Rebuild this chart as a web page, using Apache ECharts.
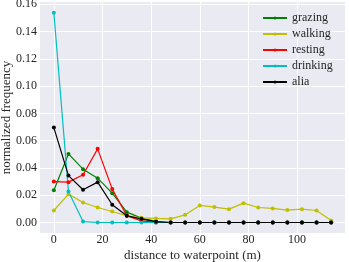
<!DOCTYPE html>
<html><head><meta charset="utf-8">
<script src="https://cdn.jsdelivr.net/npm/echarts@6/dist/echarts.min.js"></script>
<style>html,body{margin:0;padding:0;background:#fff}#c{width:349px;height:262px}</style>
</head><body><div id="c"></div>
<script>
const distances = [0,6,12,18,24,30,36,42,48,54,60,66,72,78,84,90,96,102,108,114];
const grazing  = [0.0237,0.0503,0.0391,0.0325,0.0215,0.0076,0.0032,0.0008,0,0,0,0,0,0,0,0,0,0,0,0];
const walking  = [0.0088,0.0208,0.0147,0.0110,0.0081,0.0049,0.0034,0.0030,0.0027,0.0056,0.0125,0.0113,0.0098,0.0142,0.0110,0.0103,0.0091,0.0098,0.0088,0.0015];
const resting  = [0.0300,0.0296,0.0350,0.0540,0.0245,0.0050,0.0012,0,0,0,0,0,0,0,0,0,0,0,0,0];
const drinking = [0.1538,0.0227,0.0007,0,0,0,0,0,0,0,0,0,0,0,0,0,0,0,0,0];
const alia     = [0.0696,0.0344,0.0240,0.0296,0.0130,0.0049,0.0027,0.0005,0,0,0,0,0,0,0,0,0,0,0,0];
const xTicks = [0,20,40,60,80,100];
const yTicks = [0,0.02,0.04,0.06,0.08,0.10,0.12,0.14,0.16];

const seriesDefs = [
  ['grazing', grazing, '#008000'],
  ['walking', walking, '#bfbf00'],
  ['resting', resting, '#ff0000'],
  ['drinking', drinking, '#00bfbf'],
  ['alia', alia, '#000000']
];
const font = 'Liberation Serif';
const chart = echarts.init(document.getElementById('c'), null, {renderer:'canvas'});
chart.setOption({
  animation:false,
  backgroundColor:'#ffffff',
  grid:{left:40,right:4,top:2,bottom:29,show:true,backgroundColor:'#eaeaf2',borderWidth:0,
        containLabel:false, outerBoundsMode:'none'},
  legend:{
    orient:'vertical', left:257, top:7, itemWidth:24, itemHeight:4, itemGap:4,
    textStyle:{fontFamily:font,fontSize:12,color:'#262626'},
    data: seriesDefs.map(s=>s[0])
  },
  xAxis:{
    type:'value', min:-5.7, max:119.7,
    name:'distance to waterpoint (m)', nameLocation:'middle', nameGap:16, nameMoveOverlap:false,
    nameTextStyle:{fontFamily:font,fontSize:13,color:'#262626'},
    axisLine:{show:false}, axisTick:{show:false, customValues:xTicks},
    axisLabel:{customValues:xTicks, fontFamily:font,fontSize:12,color:'#262626',margin:1},
    splitLine:{show:true,lineStyle:{color:'#ffffff',width:1}}
  },
  yAxis:{
    type:'value', min:-0.0077, max:0.1617,
    name:'normalized frequency', nameLocation:'middle', nameGap:27, nameMoveOverlap:false,
    nameTextStyle:{fontFamily:font,fontSize:13,color:'#262626'},
    axisLine:{show:false}, axisTick:{show:false, customValues:yTicks},
    axisLabel:{customValues:yTicks, fontFamily:font,fontSize:12,color:'#262626',margin:3,
      formatter:v=>v.toFixed(2)},
    splitLine:{show:true,lineStyle:{color:'#ffffff',width:1}}
  },
  series: seriesDefs.map(([name,vals,color])=>({
    name, type:'line', data: distances.map((d,i)=>[d,vals[i]]),
    symbol:'circle', symbolSize:4, showSymbol:true,
    lineStyle:{color,width:1.2}, itemStyle:{color}, color
  }))
});
</script></body></html>
